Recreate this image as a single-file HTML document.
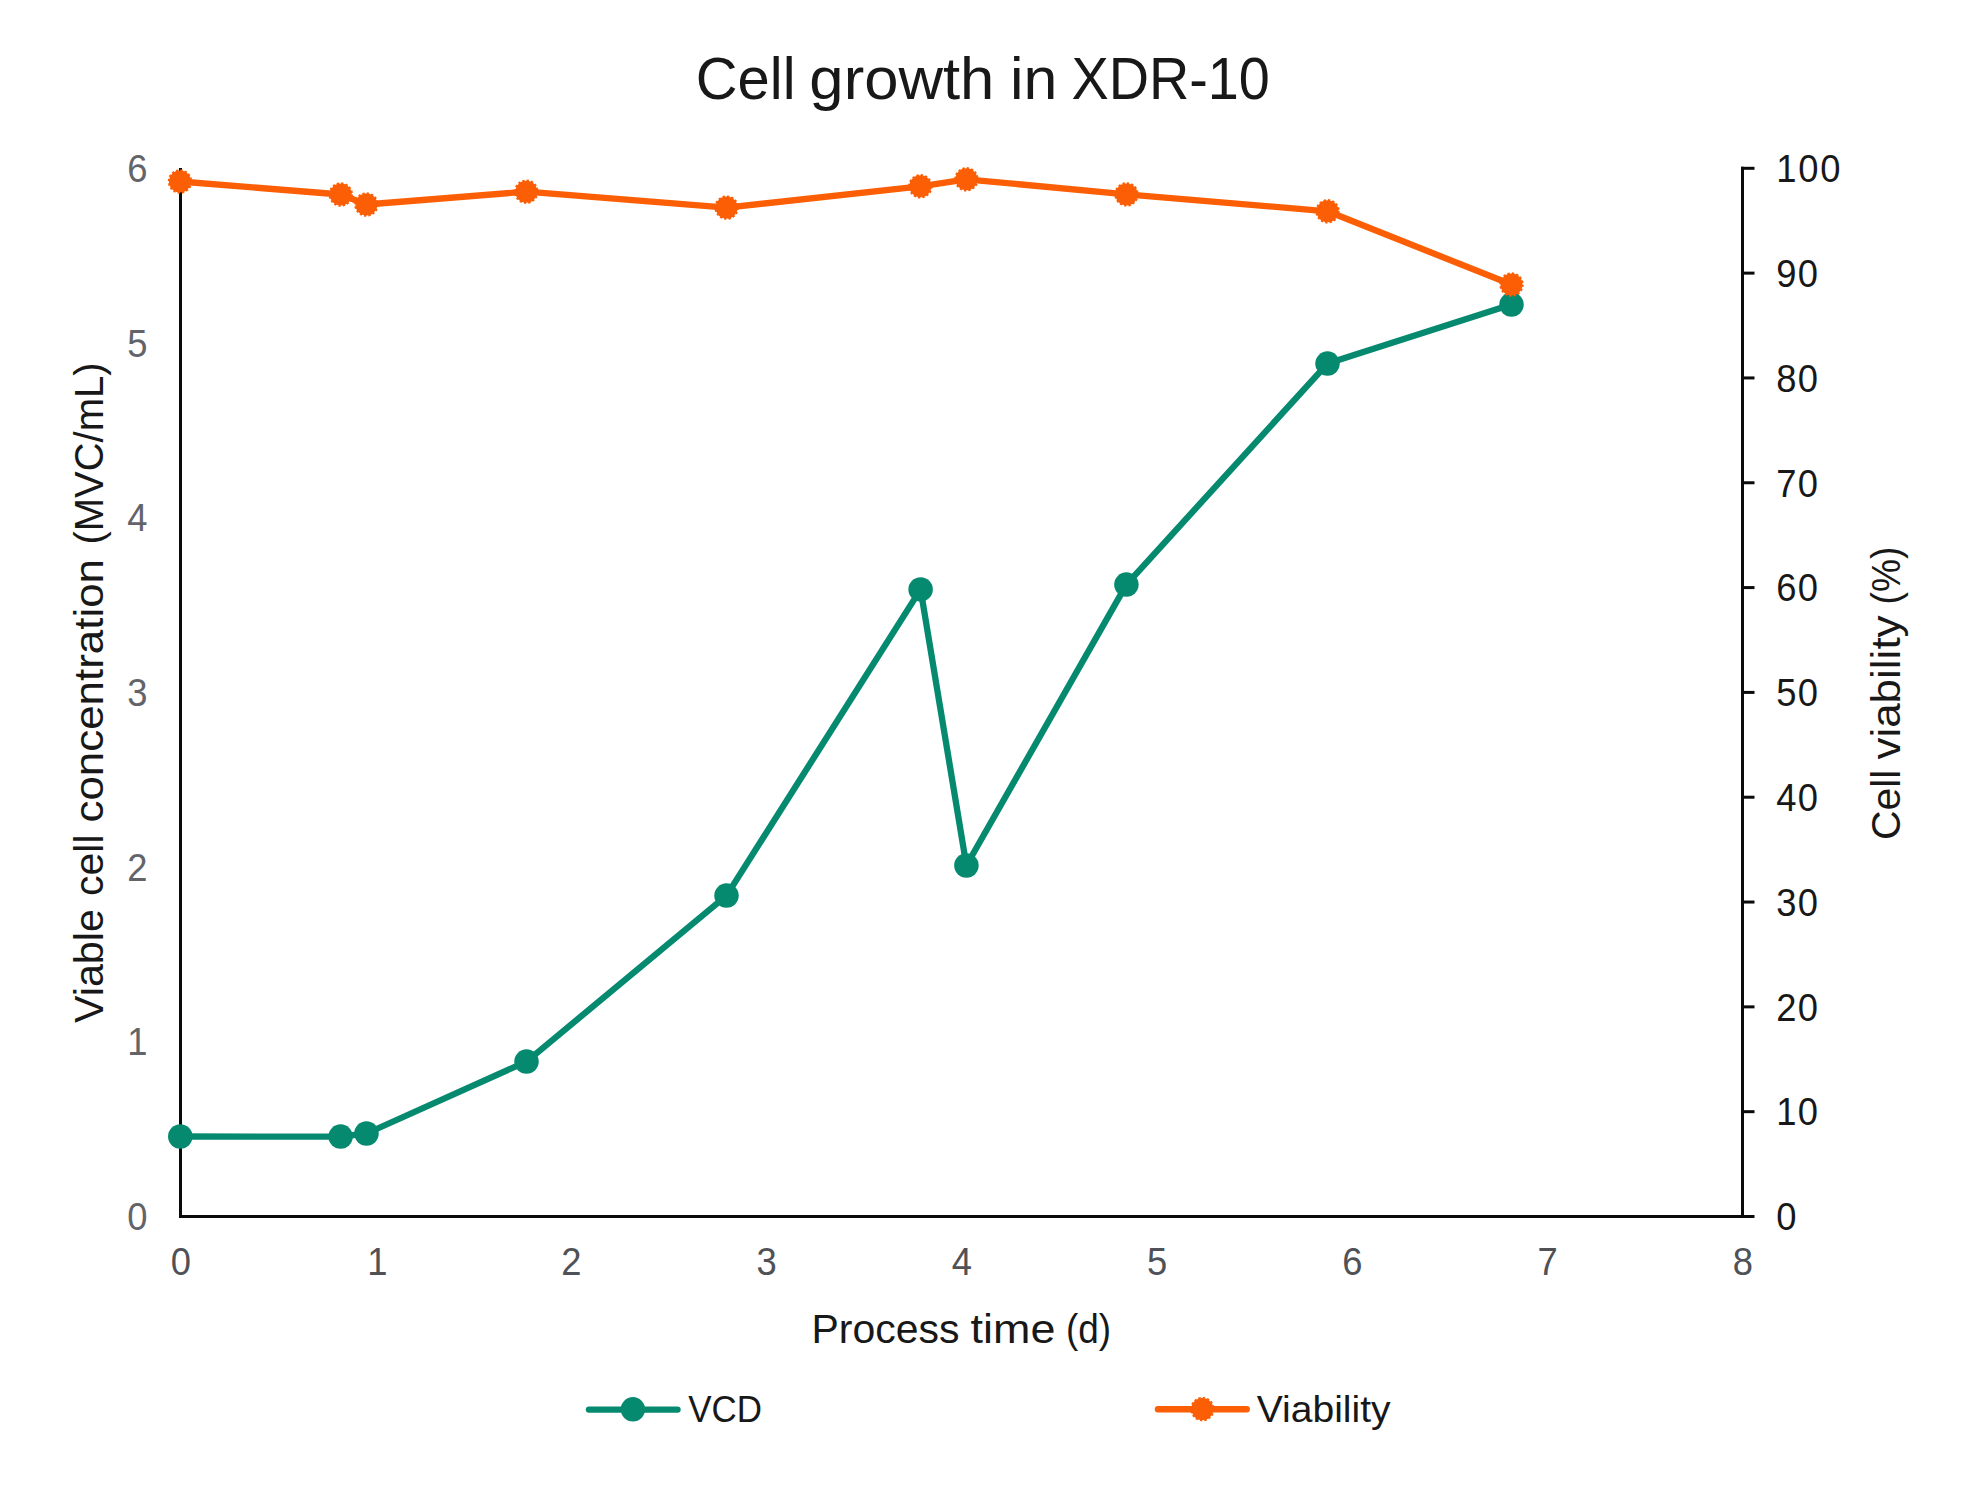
<!DOCTYPE html>
<html lang="en"><head><meta charset="utf-8"><title>Cell growth in XDR-10</title>
<style>html,body{margin:0;padding:0;background:#fff}body{width:1966px;height:1507px;overflow:hidden}svg{display:block}text{font-family:"Liberation Sans",sans-serif}</style></head><body>
<svg width="1966" height="1507" viewBox="0 0 1966 1507">
<rect width="1966" height="1507" fill="#fff"/>
<g stroke="#0a0a0a" stroke-width="3" fill="none" stroke-linecap="butt">
<path d="M180.5,168.0 V1218.0 "/>
<path d="M179.0,1216.5 H1754.5"/>
<path d="M1742.5,1218.0 V166.8"/>
<path d="M1741.0,1111.68 H1754.5"/>
<path d="M1741.0,1006.86 H1754.5"/>
<path d="M1741.0,902.04 H1754.5"/>
<path d="M1741.0,797.22 H1754.5"/>
<path d="M1741.0,692.40 H1754.5"/>
<path d="M1741.0,587.58 H1754.5"/>
<path d="M1741.0,482.76 H1754.5"/>
<path d="M1741.0,377.94 H1754.5"/>
<path d="M1741.0,273.12 H1754.5"/>
<path d="M1741.0,168.30 H1754.5"/>
</g>
<polyline points="180.3,1136.5 340.6,1136.6 366.5,1133.5 526.5,1061.6 726.5,895.6 920.6,589.4 966.4,865.5 1126.4,584.6 1327.5,363.6 1511.5,304.6" fill="none" stroke="#068a6f" stroke-width="6.3" stroke-linejoin="round" stroke-linecap="round"/>
<g fill="#068a6f"><circle cx="180.3" cy="1136.5" r="12.25"/><circle cx="340.6" cy="1136.6" r="12.25"/><circle cx="366.5" cy="1133.5" r="12.25"/><circle cx="526.5" cy="1061.6" r="12.25"/><circle cx="726.5" cy="895.6" r="12.25"/><circle cx="920.6" cy="589.4" r="12.25"/><circle cx="966.4" cy="865.5" r="12.25"/><circle cx="1126.4" cy="584.6" r="12.25"/><circle cx="1327.5" cy="363.6" r="12.25"/><circle cx="1511.5" cy="304.6" r="12.25"/></g>
<polyline points="180.0,181.5 340.8,194.5 366.4,204.5 526.3,191.7 726.6,207.6 920.4,186.3 966.4,179.3 1126.5,194.4 1327.6,211.3 1511.5,284.5" fill="none" stroke="#fb5e05" stroke-width="6.3" stroke-linejoin="round" stroke-linecap="round"/>
<g fill="#fb5e05" stroke="#fb5e05" stroke-width="2.4" stroke-dasharray="2.3 2.02"><circle cx="180.0" cy="181.5" r="11"/><circle cx="340.8" cy="194.5" r="11"/><circle cx="366.4" cy="204.5" r="11"/><circle cx="526.3" cy="191.7" r="11"/><circle cx="726.6" cy="207.6" r="11"/><circle cx="920.4" cy="186.3" r="11"/><circle cx="966.4" cy="179.3" r="11"/><circle cx="1126.5" cy="194.4" r="11"/><circle cx="1327.6" cy="211.3" r="11"/><circle cx="1511.5" cy="284.5" r="11"/></g>
<g font-size="38.1" text-anchor="middle" fill="#62646a">
<text transform="translate(137.3,1230.0) scale(0.955,1)">0</text>
<text transform="translate(137.3,1055.3) scale(0.955,1)">1</text>
<text transform="translate(137.3,880.6) scale(0.955,1)">2</text>
<text transform="translate(137.3,705.9) scale(0.955,1)">3</text>
<text transform="translate(137.3,531.2) scale(0.955,1)">4</text>
<text transform="translate(137.3,356.5) scale(0.955,1)">5</text>
<text transform="translate(137.3,181.8) scale(0.955,1)">6</text>
</g>
<g font-size="38.1" text-anchor="middle" fill="#4f5156">
<text transform="translate(180.9,1275.3) scale(0.955,1)">0</text>
<text transform="translate(377.4,1275.3) scale(0.955,1)">1</text>
<text transform="translate(571.4,1275.3) scale(0.955,1)">2</text>
<text transform="translate(766.6,1275.3) scale(0.955,1)">3</text>
<text transform="translate(961.9,1275.3) scale(0.955,1)">4</text>
<text transform="translate(1157.2,1275.3) scale(0.955,1)">5</text>
<text transform="translate(1352.4,1275.3) scale(0.955,1)">6</text>
<text transform="translate(1547.7,1275.3) scale(0.955,1)">7</text>
<text transform="translate(1742.9,1275.3) scale(0.955,1)">8</text>
</g>
<g font-size="38.1" fill="#181818">
<text transform="translate(1776.3,1230.2) scale(0.955,1)" letter-spacing="1.2">0</text>
<text transform="translate(1776.3,1125.4) scale(0.955,1)" letter-spacing="1.2">10</text>
<text transform="translate(1776.3,1020.6) scale(0.955,1)" letter-spacing="1.2">20</text>
<text transform="translate(1776.3,915.7) scale(0.955,1)" letter-spacing="1.2">30</text>
<text transform="translate(1776.3,810.9) scale(0.955,1)" letter-spacing="1.2">40</text>
<text transform="translate(1776.3,706.1) scale(0.955,1)" letter-spacing="1.2">50</text>
<text transform="translate(1776.3,601.3) scale(0.955,1)" letter-spacing="1.2">60</text>
<text transform="translate(1776.3,496.5) scale(0.955,1)" letter-spacing="1.2">70</text>
<text transform="translate(1776.3,391.6) scale(0.955,1)" letter-spacing="1.2">80</text>
<text transform="translate(1776.3,286.8) scale(0.955,1)" letter-spacing="1.2">90</text>
<text transform="translate(1776.3,182.0) scale(0.955,1)" letter-spacing="1.8">100</text>
</g>
<text y="98.5" font-size="58.3" fill="#181818"><tspan x="695.79" textLength="99.73" lengthAdjust="spacingAndGlyphs">Cell</tspan> <tspan x="809.38" textLength="184.88" lengthAdjust="spacingAndGlyphs">growth</tspan> <tspan x="1009.90" textLength="47.31" lengthAdjust="spacingAndGlyphs">in</tspan> <tspan x="1071.53" textLength="198.36" lengthAdjust="spacingAndGlyphs">XDR-10</tspan></text>
<text y="1342.7" font-size="41.5" fill="#181818"><tspan x="811.40" textLength="148.08" lengthAdjust="spacingAndGlyphs">Process</tspan> <tspan x="970.60" textLength="84.82" lengthAdjust="spacingAndGlyphs">time</tspan> <tspan x="1065.97" textLength="45.14" lengthAdjust="spacingAndGlyphs">(d)</tspan></text>
<text transform="translate(103.2,0) rotate(-90)" font-size="41.5" fill="#181818"><tspan x="-1023.00" textLength="113.87" lengthAdjust="spacingAndGlyphs">Viable</tspan> <tspan x="-895.98" textLength="61.48" lengthAdjust="spacingAndGlyphs">cell</tspan> <tspan x="-822.57" textLength="263.54" lengthAdjust="spacingAndGlyphs">concentration</tspan> <tspan x="-544.57" textLength="182.14" lengthAdjust="spacingAndGlyphs">(MVC/mL)</tspan></text>
<text transform="translate(1900.2,0) rotate(-90)" font-size="41.5" fill="#181818"><tspan x="-840.12" textLength="70.52" lengthAdjust="spacingAndGlyphs">Cell</tspan> <tspan x="-759.60" textLength="144.20" lengthAdjust="spacingAndGlyphs">viability</tspan> <tspan x="-604.44" textLength="57.87" lengthAdjust="spacingAndGlyphs">(%)</tspan></text>
<text y="1421.8" font-size="36" fill="#181818"><tspan x="688.20" textLength="73.71" lengthAdjust="spacingAndGlyphs">VCD</tspan></text>
<text y="1421.8" font-size="36" fill="#181818"><tspan x="1256.70" textLength="133.90" lengthAdjust="spacingAndGlyphs">Viability</tspan></text>
<path d="M589,1409.6 H677.5" stroke="#068a6f" stroke-width="6.4" stroke-linecap="round" fill="none"/><circle cx="632.9" cy="1409.3" r="12.2" fill="#068a6f"/>
<path d="M1158,1409.3 H1246.7" stroke="#fb5e05" stroke-width="6.4" stroke-linecap="round" fill="none"/><circle cx="1202.4" cy="1409.1" r="11" fill="#fb5e05" stroke="#fb5e05" stroke-width="2.4" stroke-dasharray="2.3 2.02"/>
</svg></body></html>
